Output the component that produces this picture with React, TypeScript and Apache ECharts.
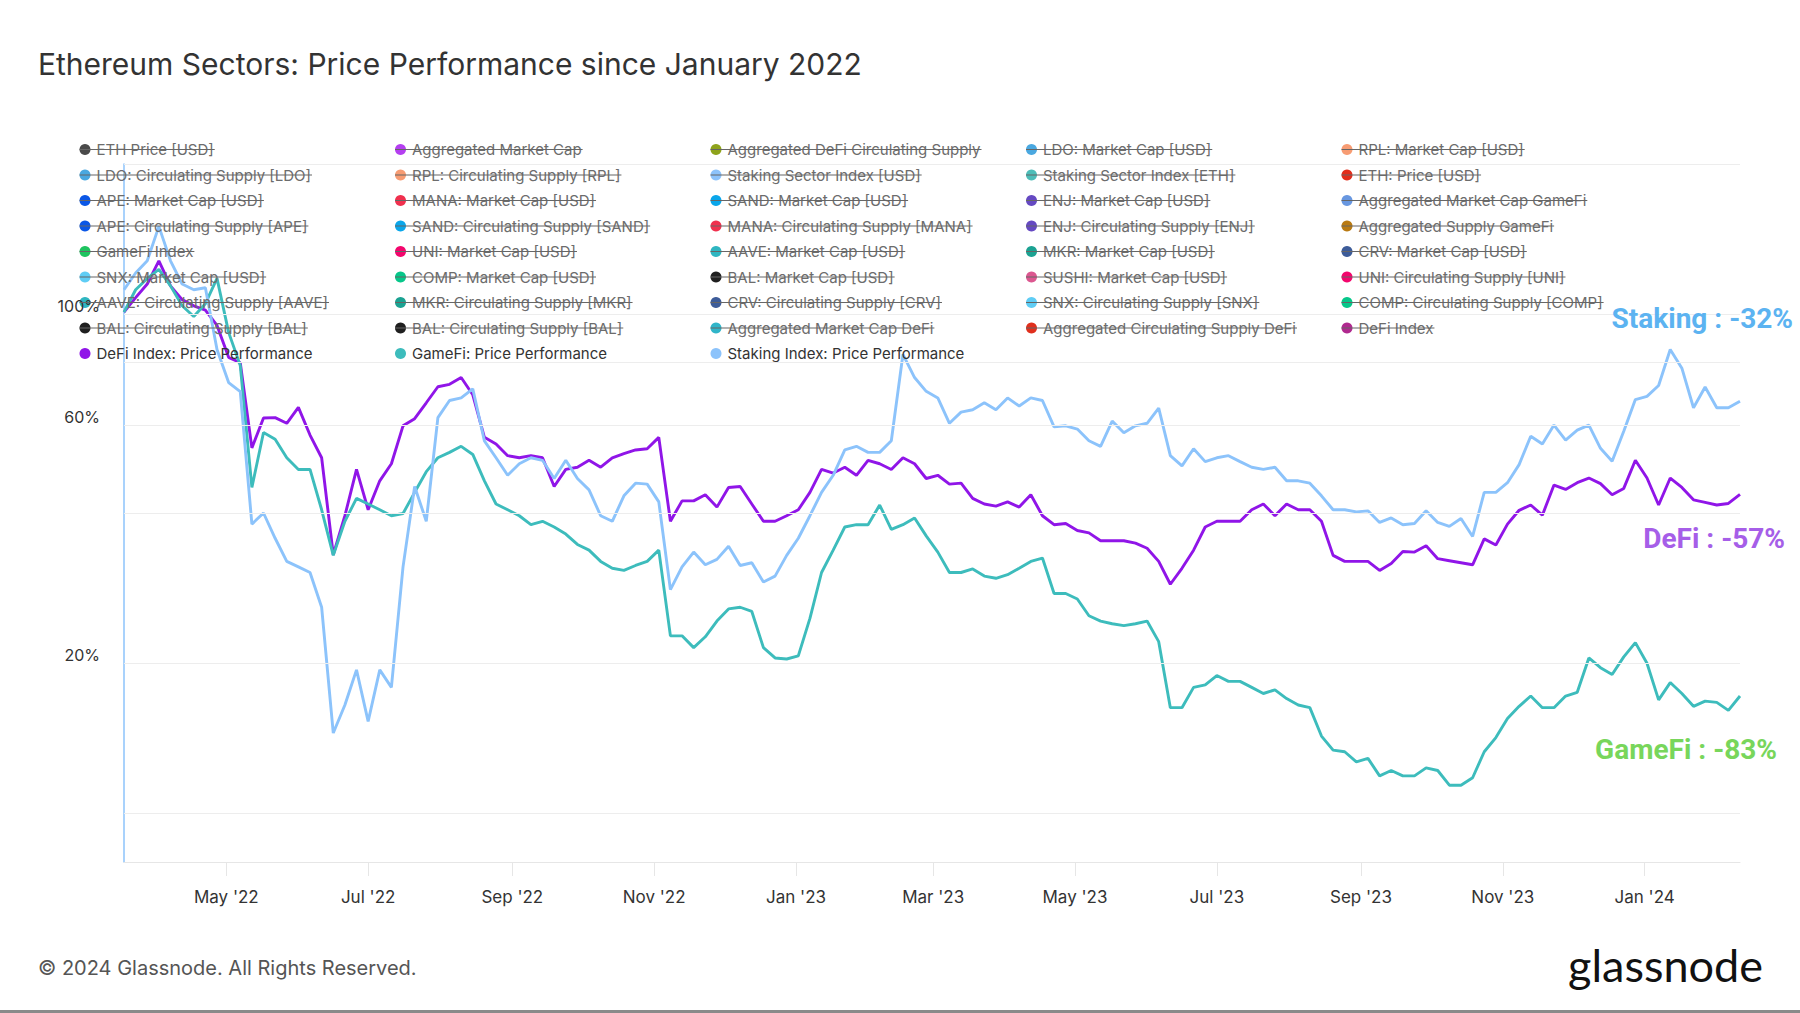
import React, { useEffect, useRef } from 'react';
import * as echarts from 'echarts';

// ---------- data ----------
const START_DATE = '2022-03-18';
const STEP_DAYS = 5;

const DEFI_PERF = [
  101, 108, 115, 128, 114, 107, 104, 102, 95, 82, 80, 54, 62, 62.1, 60.5, 65.1, 57.3, 51.6, 33, 39.5,
  48.9, 40.6, 46.4, 50.2, 59.8, 61.8, 66.5, 71.6, 72.4, 74.7, 69.0, 56.7, 55.0, 52.1, 51.6, 52.1, 51.6, 45.2, 48.9, 49.4,
  51.0, 49.4, 51.6, 52.6, 53.5, 53.8, 56.7, 38.5, 42.3, 42.3, 43.5, 41.1, 45.0, 45.2, 41.7, 38.5, 38.5, 39.5, 40.6, 44.0,
  48.9, 48.1, 49.4, 47.6, 51.0, 50.2, 48.9, 51.6, 50.2, 46.9, 47.6, 45.7, 45.9, 42.8, 41.7, 41.3, 42.1, 41.1, 43.5, 39.5,
  37.9, 38.1, 36.9, 36.5, 35.2, 35.2, 35.2, 34.8, 34.0, 32.0, 28.8, 31.0, 33.7, 37.5, 38.5, 38.5, 38.5, 40.6, 41.7, 39.5,
  41.7, 40.6, 40.6, 38.5, 32.9, 32.0, 32.0, 32.0, 30.7, 31.7, 33.5, 33.4, 34.4, 32.4, 32.1, 31.8, 31.5, 35.5, 34.5, 38,
  40.5, 41.5, 39.6, 45.5, 44.6, 46, 47, 45.8, 43.5, 44.8, 51, 47, 41.5, 47, 45, 42.5, 42, 41.5, 41.8, 43.6,
];

const GAMEFI_PERF = [
  101, 112, 118, 123, 114, 104, 99, 105, 118, 92, 79, 45, 58, 56.2, 51.6, 48.9, 48.9, 40.6, 32.9, 38.5,
  42.8, 41.7, 40.6, 39.5, 39.9, 44.0, 48.4, 51.6, 52.9, 54.4, 52.4, 46.4, 41.7, 40.6, 39.5, 37.9, 38.5, 37.5, 36.3, 34.6,
  33.7, 32.0, 31.0, 30.7, 31.4, 32.0, 33.7, 22.7, 22.7, 21.5, 22.6, 24.3, 25.7, 25.9, 25.4, 21.5, 20.5, 20.4, 20.7, 24.6,
  30.4, 33.7, 37.5, 37.9, 37.9, 41.5, 37.1, 37.9, 39.1, 36.0, 33.4, 30.4, 30.4, 30.9, 29.9, 29.6, 30.1, 31.0, 32.0, 32.5,
  27.6, 27.6, 26.9, 24.9, 24.3, 24.0, 23.8, 24.0, 24.3, 22.1, 16.3, 16.3, 17.9, 18.1, 18.9, 18.4, 18.4, 17.9, 17.4, 17.7,
  17.0, 16.5, 16.3, 14.3, 13.4, 13.3, 12.7, 12.9, 11.9, 12.2, 11.9, 11.9, 12.35, 12.2, 11.4, 11.4, 11.8, 13.3, 14.2, 15.5,
  16.4, 17.2, 16.3, 16.3, 17.2, 17.5, 20.5, 19.6, 19.0, 20.6, 22.0, 20.0, 16.9, 18.3, 17.4, 16.4, 16.8, 16.7, 16.1, 17.2,
];

const STAKING_PERF = [
  112, 121, 128, 150, 128, 115, 112, 113, 85, 73, 70, 38, 40, 35.6, 32.0, 31.2, 30.4, 25.9, 14.5, 16.5,
  19.4, 15.3, 19.4, 17.9, 31.2, 45.2, 38.5, 62.1, 67.2, 68.0, 70.9, 55.8, 51.6, 47.6, 50.2, 51.6, 51.0, 46.9, 51.0, 46.9,
  44.5, 39.5, 38.5, 43.3, 45.9, 45.7, 42.1, 28.1, 31.2, 33.4, 31.5, 32.3, 34.3, 31.4, 31.8, 29.1, 29.9, 32.9, 35.6, 39.5,
  44.0, 47.6, 53.5, 54.4, 52.9, 52.9, 55.8, 83.1, 74.7, 70.1, 68.0, 60.5, 63.7, 64.4, 66.5, 64.4, 68.0, 65.5, 68.0, 67.2,
  59.5, 59.8, 58.9, 55.8, 54.4, 61.1, 57.9, 59.8, 60.5, 64.9, 52.1, 49.7, 53.8, 50.7, 51.6, 52.1, 50.7, 49.4, 48.9, 49.4,
  46.4, 46.4, 45.9, 43.3, 40.6, 40.6, 40.2, 40.4, 38.3, 39.1, 37.9, 38.1, 40.4, 38.3, 37.6, 39, 35.9, 44, 44, 46,
  50, 57, 55, 60, 56, 58.6, 60, 53.9, 50.8, 58.3, 67.5, 68.5, 72, 85, 78, 65, 71.5, 65, 65, 67,
];

const MONTHS = ['Jan', 'Feb', 'Mar', 'Apr', 'May', 'Jun', 'Jul', 'Aug', 'Sep', 'Oct', 'Nov', 'Dec'];

const Y_MIN = 8;
const Y_MAX = 200;
const Y_GRID_VALUES = [8, 10, 20, 40, 60, 80, 100, 200];
const Y_LABELED_VALUES = [8, 20, 60, 100];

const NAME_DEFI = 'DeFi Index: Price Performance';
const NAME_GAMEFI = 'GameFi: Price Performance';
const NAME_STAKING = 'Staking Index: Price Performance';

const LEGEND_COLUMNS: string[][] = [
  ['ETH Price [USD]', 'LDO: Circulating Supply [LDO]', 'APE: Market Cap [USD]', 'APE: Circulating Supply [APE]', 'GameFi Index', 'SNX: Market Cap [USD]', 'AAVE: Circulating Supply [AAVE]', 'BAL: Circulating Supply [BAL]', NAME_DEFI],
  ['Aggregated Market Cap', 'RPL: Circulating Supply [RPL]', 'MANA: Market Cap [USD]', 'SAND: Circulating Supply [SAND]', 'UNI: Market Cap [USD]', 'COMP: Market Cap [USD]', 'MKR: Circulating Supply [MKR]', 'BAL: Circulating Supply [BAL]', NAME_GAMEFI],
  ['Aggregated DeFi Circulating Supply', 'Staking Sector Index [USD]', 'SAND: Market Cap [USD]', 'MANA: Circulating Supply [MANA]', 'AAVE: Market Cap [USD]', 'BAL: Market Cap [USD]', 'CRV: Circulating Supply [CRV]', 'Aggregated Market Cap DeFi', NAME_STAKING],
  ['LDO: Market Cap [USD]', 'Staking Sector Index [ETH]', 'ENJ: Market Cap [USD]', 'ENJ: Circulating Supply [ENJ]', 'MKR: Market Cap [USD]', 'SUSHI: Market Cap [USD]', 'SNX: Circulating Supply [SNX]', 'Aggregated Circulating Supply DeFi'],
  ['RPL: Market Cap [USD]', 'ETH: Price [USD]', 'Aggregated Market Cap GameFi', 'Aggregated Supply GameFi', 'CRV: Market Cap [USD]', 'UNI: Circulating Supply [UNI]', 'COMP: Circulating Supply [COMP]', 'DeFi Index'],
];

const SERIES_COLORS: Record<string, string> = {
  'ETH Price [USD]': '#4a4a4a',
  'Aggregated Market Cap': '#b43ff0',
  'Aggregated DeFi Circulating Supply': '#8ea31b',
  'LDO: Market Cap [USD]': '#4aa8e0',
  'RPL: Market Cap [USD]': '#f79c73',
  'LDO: Circulating Supply [LDO]': '#4aa8e0',
  'RPL: Circulating Supply [RPL]': '#f79c73',
  'Staking Sector Index [USD]': '#8dc3fb',
  'Staking Sector Index [ETH]': '#4dbdb8',
  'ETH: Price [USD]': '#e22d1b',
  'APE: Market Cap [USD]': '#0b57e6',
  'MANA: Market Cap [USD]': '#f0304e',
  'SAND: Market Cap [USD]': '#0aa6ea',
  'ENJ: Market Cap [USD]': '#6549c2',
  'Aggregated Market Cap GameFi': '#6897e0',
  'APE: Circulating Supply [APE]': '#0b57e6',
  'SAND: Circulating Supply [SAND]': '#0aa6ea',
  'MANA: Circulating Supply [MANA]': '#f0304e',
  'ENJ: Circulating Supply [ENJ]': '#6549c2',
  'Aggregated Supply GameFi': '#b97a12',
  'GameFi Index': '#1ec45f',
  'UNI: Market Cap [USD]': '#f3066d',
  'AAVE: Market Cap [USD]': '#2fb6c1',
  'MKR: Market Cap [USD]': '#1ba292',
  'CRV: Market Cap [USD]': '#3d5c99',
  'SNX: Market Cap [USD]': '#5fcdf5',
  'COMP: Market Cap [USD]': '#06c78a',
  'BAL: Market Cap [USD]': '#1f1f1f',
  'SUSHI: Market Cap [USD]': '#dc5790',
  'UNI: Circulating Supply [UNI]': '#f3066d',
  'AAVE: Circulating Supply [AAVE]': '#2fb6c1',
  'MKR: Circulating Supply [MKR]': '#1ba292',
  'CRV: Circulating Supply [CRV]': '#3d5c99',
  'SNX: Circulating Supply [SNX]': '#5fcdf5',
  'COMP: Circulating Supply [COMP]': '#06c78a',
  'BAL: Circulating Supply [BAL]': '#1f1f1f',
  'Aggregated Market Cap DeFi': '#30b5c9',
  'Aggregated Circulating Supply DeFi': '#e02f1d',
  'DeFi Index': '#b0298f',
  [NAME_DEFI]: '#9015e8',
  [NAME_GAMEFI]: '#3dbcbc',
  [NAME_STAKING]: '#8cc3fb',
};

const ACTIVE_DATA: Record<string, number[]> = {
  [NAME_DEFI]: DEFI_PERF,
  [NAME_GAMEFI]: GAMEFI_PERF,
  [NAME_STAKING]: STAKING_PERF,
};

const ANNOTATIONS = [
  { text: 'Staking : -32%', color: '#5cb3f1', x: 1793, y: 318 },
  { text: 'DeFi : -57%', color: '#a65ee8', x: 1785, y: 538 },
  { text: 'GameFi : -83%', color: '#78d65b', x: 1777, y: 749 },
];

// ---------- layout ----------
const W = 1800;
const H = 1013;
const GRID = { left: 124, right: 60, top: 164, bottom: 151 };
const LEGEND_DOT_X = [86, 401.5, 717, 1032.5, 1348];
const LEGEND_ROW0_Y = 149.5;
const LEGEND_PITCH = 25.5;
const LEGEND_FONT = 15;
const LEGEND_LINE_H = 15;
const FONT = 'Inter';

function buildDates(start: string, step: number, n: number): string[] {
  const [y, m, d] = start.split('-').map(Number);
  const out: string[] = [];
  for (let i = 0; i < n; i++) {
    const dt = new Date(Date.UTC(y, m - 1, d + i * step));
    out.push(dt.toISOString().slice(0, 10));
  }
  return out;
}

function formatMonth(value: number): string {
  const d = new Date(value);
  if (d.getDate() !== 1) return '';
  return `${MONTHS[d.getMonth()]} '${String(d.getFullYear()).slice(2)}`;
}

export default function App() {
  const ref = useRef<HTMLDivElement>(null);

  useEffect(() => {
    if (!ref.current) return;
    const chart = echarts.init(ref.current, null, { renderer: 'svg' });
    const dates = buildDates(START_DATE, STEP_DAYS, DEFI_PERF.length);

    const ctx = document.createElement('canvas').getContext('2d')!;
    ctx.font = `${LEGEND_FONT}px ${FONT}`;

    const names: string[] = [];
    LEGEND_COLUMNS.forEach((col) => col.forEach((n) => { if (!names.includes(n)) names.push(n); }));
    const ordered = [
      ...names.filter((n) => !ACTIVE_DATA[n]),
      NAME_DEFI, NAME_GAMEFI, NAME_STAKING,
    ];

    const series: any[] = ordered.map((name) => {
      const vals = ACTIVE_DATA[name];
      const s: any = {
        name,
        type: 'line',
        color: SERIES_COLORS[name],
        itemStyle: { color: SERIES_COLORS[name] },
        showSymbol: false,
        symbol: 'none',
        lineStyle: { width: 2.9, color: SERIES_COLORS[name] },
        data: vals ? dates.map((d, i) => [d, vals[i]]) : [],
        emphasis: { disabled: true },
      };
      if (name === NAME_DEFI) {
        s.markLine = {
          silent: true,
          symbol: ['none', 'none'],
          animation: false,
          lineStyle: { color: '#ededed', width: 1, type: 'solid' },
          label: {
            position: 'start',
            distance: [24, 0],
            align: 'right',
            verticalAlign: 'bottom',
            color: '#333333',
            fontSize: 16,
            fontFamily: FONT,
          },
          data: Y_GRID_VALUES.map((v) => ({
            yAxis: v,
            lineStyle: v === Y_MIN ? { opacity: 0 } : undefined,
            label: Y_LABELED_VALUES.includes(v) ? { show: true, formatter: `${v}%` } : { show: false },
          })),
        };
      }
      return s;
    });

    const legends = LEGEND_COLUMNS.map((col, c) => ({
      orient: 'vertical',
      left: LEGEND_DOT_X[c] - 6.5,
      top: LEGEND_ROW0_Y - LEGEND_LINE_H / 2,
      padding: 0,
      itemGap: LEGEND_PITCH - LEGEND_LINE_H,
      itemWidth: 13,
      itemHeight: 11,
      icon: 'circle',
      selectedMode: false,
      itemStyle: { borderWidth: 0 },
      textStyle: { fontFamily: FONT, fontSize: LEGEND_FONT, lineHeight: LEGEND_LINE_H, color: '#333333' },
      data: col.map((name) => ({
        name,
        textStyle: { color: ACTIVE_DATA[name] ? '#333333' : '#6c6c6c' },
      })),
    }));

    const strikes: any[] = [];
    LEGEND_COLUMNS.forEach((col, c) => {
      col.forEach((name, r) => {
        if (ACTIVE_DATA[name]) return;
        const y = LEGEND_ROW0_Y + r * LEGEND_PITCH;
        const x1 = LEGEND_DOT_X[c] - 6.5;
        const x2 = LEGEND_DOT_X[c] + 11.5 + ctx.measureText(name).width;
        strikes.push({
          type: 'line',
          z: 100,
          silent: true,
          shape: { x1, y1: y, x2, y2: y },
          style: { stroke: '#666666', lineWidth: 1.2 },
        });
      });
    });

    const texts: any[] = [
      {
        type: 'text', x: 38, y: 64, silent: true,
        style: { text: 'Ethereum Sectors: Price Performance since January 2022', fill: '#333333', font: `30px ${FONT}`, align: 'left', verticalAlign: 'middle', textAlign: 'left', textVerticalAlign: 'middle' },
      },
      {
        type: 'text', x: 38, y: 968, silent: true,
        style: { text: '© 2024 Glassnode. All Rights Reserved.', fill: '#555555', font: `20px ${FONT}`, align: 'left', verticalAlign: 'middle', textAlign: 'left', textVerticalAlign: 'middle' },
      },
      {
        type: 'text', x: 1763, y: 965, silent: true,
        style: { text: 'glassnode', fill: '#111111', font: '45px Lato', align: 'right', verticalAlign: 'middle', textAlign: 'right', textVerticalAlign: 'middle' },
      },
      ...ANNOTATIONS.map((a) => ({
        type: 'text', x: a.x, y: a.y, silent: true, z: 100,
        style: { text: a.text, fill: a.color, font: 'bold 28px Roboto', align: 'right', verticalAlign: 'middle', textAlign: 'right', textVerticalAlign: 'middle' },
      })),
      {
        type: 'rect', silent: true,
        shape: { x: 0, y: H - 3, width: W, height: 3 },
        style: { fill: '#8a8a8a' },
      },
    ];

    const option: any = {
      animation: false,
      backgroundColor: '#ffffff',
      textStyle: { fontFamily: FONT },
      grid: GRID,
      legend: legends,
      xAxis: {
        type: 'time',
        min: 'dataMin',
        max: 'dataMax',
        splitNumber: 10,
        axisLine: { show: true, lineStyle: { color: '#e6e6e6', width: 1 } },
        axisTick: { show: true, length: 14, lineStyle: { color: '#e6e6e6' } },
        axisLabel: {
          formatter: (v: number) => formatMonth(v),
          showMinLabel: false,
          showMaxLabel: false,
          margin: 26,
          fontSize: 17,
          color: '#333333',
          fontFamily: FONT,
        },
        splitLine: { show: false },
      },
      yAxis: {
        type: 'log',
        logBase: 10,
        min: Y_MIN,
        max: Y_MAX,
        axisLine: { show: true, lineStyle: { color: '#8cc3fb', width: 1.5 } },
        axisTick: { show: false },
        axisLabel: { show: false },
        splitLine: { show: false },
      },
      series,
      graphic: [...texts, ...strikes],
    };

    chart.setOption(option);
    return () => chart.dispose();
  }, []);

  return (
    <div
      ref={ref}
      style={{ position: 'fixed', left: 0, top: 0, width: W, height: H, background: '#ffffff' }}
    />
  );
}
